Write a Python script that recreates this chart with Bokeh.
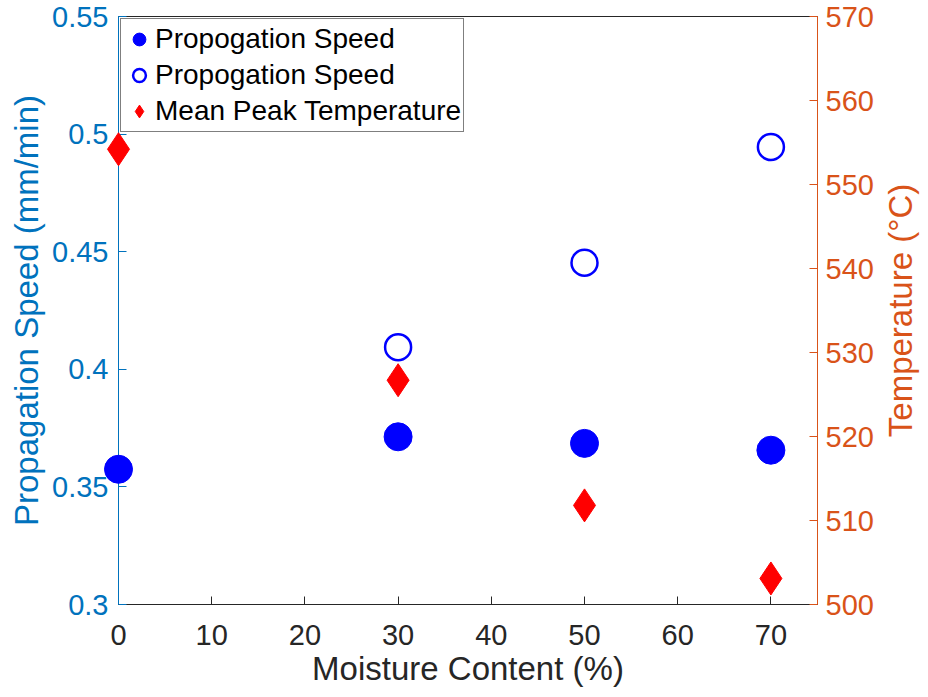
import math
from bokeh.plotting import figure
from bokeh.models import Range1d, LinearAxis, FixedTicker, Legend, LegendItem
from bokeh.core.properties import value
from bokeh.embed import file_html
from bokeh.resources import INLINE

# ---- data ----
moisture = [0, 30, 50, 70]
speed_filled = [0.3575, 0.3713, 0.3685, 0.3656]
moisture_open = [30, 50, 70]
speed_open = [0.4094, 0.4453, 0.4945]
peak_temp = [554.2, 526.7, 511.8, 503.1]

x_ticks = [0, 10, 20, 30, 40, 50, 60, 70]
speed_ticks = [0.3, 0.35, 0.4, 0.45, 0.5, 0.55]
speed_tick_labels = ["0.3", "0.35", "0.4", "0.45", "0.5", "0.55"]
temp_ticks = [500, 510, 520, 530, 540, 550, 560, 570]
right_axis_title = "Temperature (°C)"

BLUE_AX = "#0072BD"
ORANGE_AX = "#D95319"
DARK = "#262626"
FONT = "Liberation Sans"

x_range = Range1d(0, 75)
y_range = Range1d(0.3, 0.55)
p = figure(width=920, height=689, x_range=x_range, y_range=y_range,
           output_backend="svg", toolbar_location=None,
           min_border_left=118, min_border_right=103, min_border_top=16, min_border_bottom=80)
p.extra_y_ranges = {"temp": Range1d(500, 570)}
p.xgrid.visible = False
p.ygrid.visible = False
p.outline_line_color = DARK
p.outline_line_width = 1
p.background_fill_color = "white"
p.border_fill_color = "white"

r_filled = p.scatter(moisture, speed_filled, marker="circle", size=28,
                     fill_color="#0000FF", line_color="#0000FF", level="overlay")
r_open = p.scatter(moisture_open, speed_open, marker="circle", size=26,
                   fill_color=None, line_color="#0000FF", line_width=2.5, level="overlay")
r_temp = p.scatter(moisture, peak_temp, marker="diamond", size=33, y_range_name="temp",
                   fill_color="#FF0000", line_color="#FF0000", level="overlay")

def style_axis(ax, color, label_color):
    ax.axis_line_color = color
    ax.major_tick_line_color = color
    ax.major_tick_in = 8
    ax.major_tick_out = 0
    ax.minor_tick_line_color = None
    ax.major_label_text_color = label_color
    ax.major_label_text_font = FONT
    ax.major_label_text_font_size = "29px"
    ax.axis_label_text_font = FONT
    ax.axis_label_text_font_size = "33px"
    ax.axis_label_text_font_style = "normal"
    ax.axis_label_text_color = label_color

# bottom axis
xa = p.xaxis[0]
xa.ticker = FixedTicker(ticks=x_ticks)
style_axis(xa, DARK, DARK)
xa.axis_label = "Moisture Content (%)"
xa.major_label_standoff = 20
xa.axis_label_standoff = 2

# left axis
ya = p.yaxis[0]
ya.ticker = FixedTicker(ticks=speed_ticks)
ya.major_label_overrides = {t: l for t, l in zip(speed_ticks, speed_tick_labels)}
style_axis(ya, BLUE_AX, BLUE_AX)
ya.axis_label = "Propagation Speed (mm/min)"
ya.major_label_standoff = 10
ya.axis_label_standoff = 4

# right axis
ra = LinearAxis(y_range_name="temp", ticker=FixedTicker(ticks=temp_ticks))
style_axis(ra, ORANGE_AX, ORANGE_AX)
ra.major_label_standoff = 8
p.add_layout(ra, "right")

# right axis title, reading bottom-to-top like the left one (drawn unclipped)
p.text(x=[x_range.end], y=[(y_range.start + y_range.end) / 2], text=[right_axis_title],
       x_offset=83, y_offset=0, angle=math.pi / 2,
       text_align="center", text_baseline="middle",
       text_font=value(FONT), text_font_size="33px", text_color=ORANGE_AX,
       level="overlay")

legend = Legend(items=[
    LegendItem(label="Propogation Speed", renderers=[r_filled]),
    LegendItem(label="Propogation Speed", renderers=[r_open]),
    LegendItem(label="Mean Peak Temperature", renderers=[r_temp]),
], location="top_left")
legend.label_text_font = FONT
legend.label_text_font_size = "28px"
legend.label_text_color = "black"
legend.glyph_width = 32
legend.glyph_height = 36
legend.label_height = 36
legend.label_standoff = 0
legend.padding = 2
legend.spacing = 0
legend.margin = 2
legend.border_line_color = "black"
legend.border_line_width = 1
legend.background_fill_color = "white"
legend.background_fill_alpha = 1
p.add_layout(legend)

open("out.html", "w").write(file_html(p, INLINE))
